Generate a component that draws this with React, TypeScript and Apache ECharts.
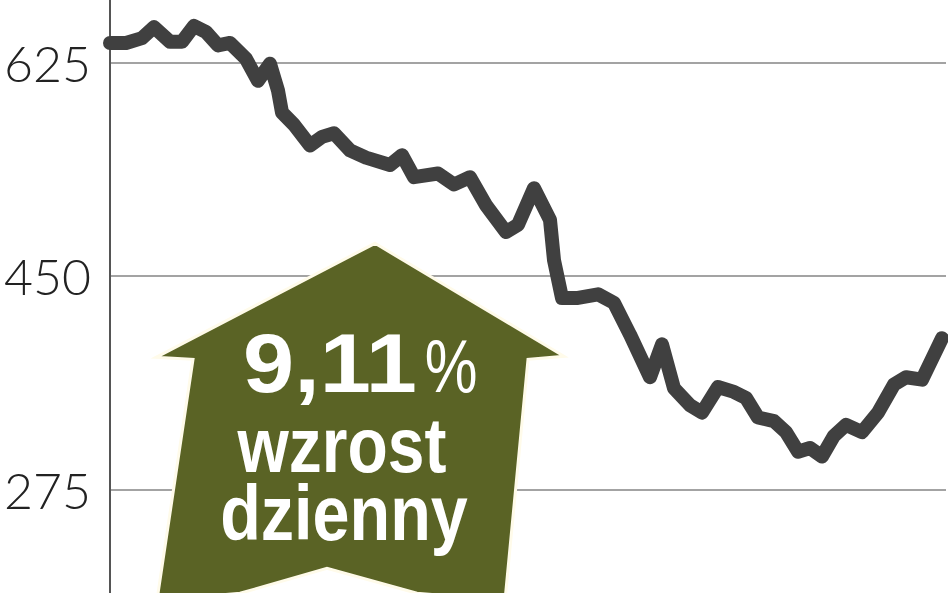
import React, { useEffect, useRef } from "react";
import * as echarts from "echarts";

// Session index (x) and closing values (y)
const days = [0, 4, 8, 11, 15, 18, 21, 24, 27, 30, 34, 37, 40, 42, 43, 46, 50, 53, 56, 60, 64, 70, 73, 76, 82, 86, 90, 94, 99, 102, 106, 110, 111, 113, 117, 122, 126, 130, 135, 138, 141, 145, 148, 152, 156, 159, 162, 166, 169, 172, 175, 178, 181, 184, 188, 192, 196, 199, 203, 208];
const values = [641, 641, 645, 654, 642, 642, 655, 650, 639, 641, 628, 610, 624, 602, 584, 574, 557, 564, 567, 553, 547, 541, 549, 531, 534, 525, 531, 508, 486, 492, 522, 496, 463, 432, 432, 435, 428, 402, 367, 394, 358, 344, 338, 359, 355, 350, 334, 331, 322, 306, 309, 302, 319, 328, 322, 338, 361, 367, 365, 399];

const yTicks = [275, 450, 625];
const changeText = "9,11";
const percentText = "%";
const line1 = "wzrost";
const line2 = "dzienny";

const W = 948;
const H = 593;
const yMin = 100;
const yMax = 800;
const visMin = 190;
const visMax = 676;
const K = H / (visMax - visMin);
const TOP_HIDDEN = (yMax - visMax) * K;
const BOTTOM_HIDDEN = (visMin - yMin) * K;

export default function App() {
  const ref = useRef<HTMLDivElement>(null);
  useEffect(() => {
    if (!ref.current) return;
    const chart = echarts.init(ref.current, undefined, { renderer: "svg" });
    const interval = yTicks[1] - yTicks[0];
    const o = TOP_HIDDEN;
    const pt = (x: number, y: number) => [x, y + o];
    chart.setOption({
      animation: false,
      backgroundColor: "#ffffff",
      grid: {
        left: 110,
        right: 2,
        top: 0,
        bottom: 0,
        containLabel: false,
      },
      xAxis: {
        type: "value",
        min: 0,
        max: 209,
        show: false,
      },
      yAxis: {
        type: "value",
        min: yMin,
        max: yMax,
        interval: interval,
        axisLine: { show: true, lineStyle: { color: "#555555", width: 2 } },
        axisTick: { show: false },
        splitLine: { show: true, lineStyle: { color: "#a3a3a3", width: 2 } },
        axisLabel: {
          show: true,
          showMinLabel: false,
          showMaxLabel: false,
          margin: 19,
          fontFamily: "Lato",
          fontWeight: 300,
          fontSize: 50,
          color: "#222222",
        },
      },
      series: [
        {
          type: "line",
          data: days.map((d, i) => [d, values[i]]),
          showSymbol: false,
          symbol: "none",
          z: 3,
          lineStyle: { color: "#404040", width: 14, cap: "round", join: "round" },
        },
      ],
      graphic: [
        {
          type: "polygon",
          z: 100,
          shape: {
            points: [
              pt(375, 243),
              pt(564, 356),
              pt(528, 359),
              pt(505, 600),
              pt(417, 593),
              pt(327, 568),
              pt(240, 593),
              pt(157, 600),
              pt(193, 359),
              pt(156, 357),
            ],
          },
          style: { fill: "#5a6325", stroke: "#fffbea", lineWidth: 3 },
        },
        {
          type: "text",
          z: 101,
          x: 330,
          y: 363 + o,
          scaleX: 1.095,
          style: {
            text: changeText,
            fill: "#ffffff",
            font: "bold 84px 'Liberation Sans', Arial, sans-serif",
            align: "center",
            verticalAlign: "middle",
          },
        },
        {
          type: "text",
          z: 101,
          x: 451,
          y: 365 + o,
          scaleX: 0.78,
          style: {
            text: percentText,
            fill: "#ffffff",
            font: "normal 76px 'Liberation Sans', Arial, sans-serif",
            align: "center",
            verticalAlign: "middle",
          },
        },
        {
          type: "text",
          z: 101,
          x: 342,
          y: 445 + o,
          scaleX: 0.857,
          style: {
            text: line1,
            fill: "#ffffff",
            font: "bold 77px 'Liberation Sans', Arial, sans-serif",
            align: "center",
            verticalAlign: "middle",
          },
        },
        {
          type: "text",
          z: 101,
          x: 344,
          y: 513 + o,
          scaleX: 0.864,
          style: {
            text: line2,
            fill: "#ffffff",
            font: "bold 77px 'Liberation Sans', Arial, sans-serif",
            align: "center",
            verticalAlign: "middle",
          },
        },
      ],
    });
    return () => chart.dispose();
  }, []);
  return (
    <div style={{ position: "absolute", left: 0, top: 0, width: W, height: H, overflow: "hidden" }}>
      <div
        ref={ref}
        style={{
          position: "absolute",
          left: 0,
          top: -TOP_HIDDEN,
          width: W,
          height: H + TOP_HIDDEN + BOTTOM_HIDDEN,
        }}
      />
    </div>
  );
}
